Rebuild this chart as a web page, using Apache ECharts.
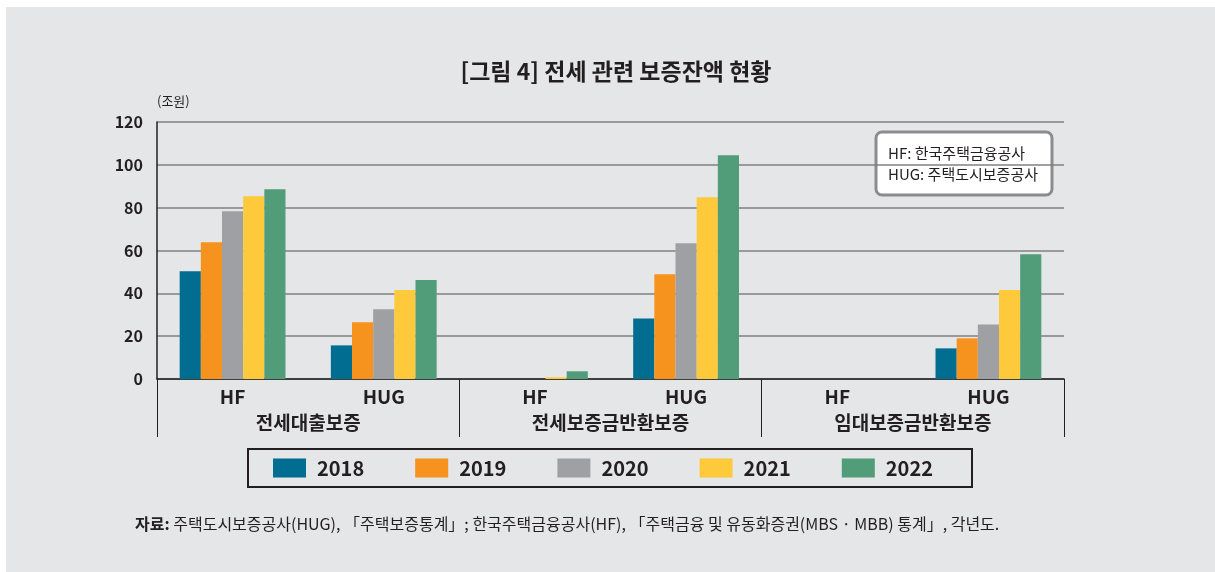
<!DOCTYPE html>
<html>
<head>
<meta charset="utf-8">
<script src="https://cdn.jsdelivr.net/npm/echarts@6/dist/echarts.min.js"></script>
<style>
  html, body { margin: 0; padding: 0; background: #fff; }
  #chart { width: 1215px; height: 572px; }
</style>
</head>
<body>
<div id="chart"></div>
<script>
// 데이터 (단위: 조원)
var categories = ['HF', 'HUG', 'HF', 'HUG', 'HF', 'HUG'];
var groups = ['전세대출보증', '전세보증금반환보증', '임대보증금반환보증'];
var years = ['2018', '2019', '2020', '2021', '2022'];
var v2018 = [50.3, 15.7, 0, 28.3, 0, 14.3];
var v2019 = [63.8, 26.5, 0, 48.9, 0, 19.0];
var v2020 = [78.3, 32.6, 0, 63.4, 0, 25.5];
var v2021 = [85.3, 41.5, 0.8, 84.9, 0, 41.5];
var v2022 = [88.6, 46.2, 3.6, 104.5, 0, 58.2];
var yTicks = [0, 20, 40, 60, 80, 100, 120];

var colors = ['#006d91', '#f6921e', '#9fa0a4', '#fec93b', '#519d79'];
var values = [v2018, v2019, v2020, v2021, v2022];
var font = '"Noto Sans CJK KR", "Noto Sans", sans-serif';
var ink = '#231f20';

var chart = echarts.init(document.getElementById('chart'));

var series = years.map(function (y, i) {
  return {
    name: y,
    type: 'bar',
    data: values[i],
    barGap: 0,
    barCategoryGap: '30%',
    itemStyle: { color: colors[i] }
  };
});

chart.setOption({
  backgroundColor: '#ffffff',
  textStyle: { fontFamily: font },
  animation: false,
  title: {
    text: '[그림 4] 전세 관련 보증잔액 현황',
    left: 611,
    textAlign: 'center',
    top: 55,
    textStyle: { fontFamily: font, fontSize: 23, fontWeight: 'bold', color: ink }
  },
  legend: {
    left: 248,
    top: 449,
    itemWidth: 33,
    itemHeight: 19,
    itemGap: 51,
    icon: 'rect',
    padding: [9, 39, 9, 25],
    borderColor: ink,
    borderWidth: 2,
    selectedMode: false,
    textStyle: { fontFamily: font, fontSize: 20, fontWeight: 'bold', color: ink, padding: [0, 0, 0, 6] },
    data: years
  },
  grid: { left: 157, right: 151, top: 122, bottom: 193 },
  xAxis: [
    {
      type: 'category',
      data: categories,
      axisLine: { lineStyle: { color: ink, width: 1.5 } },
      axisTick: { show: false },
      axisLabel: { margin: 8, fontFamily: font, fontSize: 19, fontWeight: 'bold', color: ink }
    },
    {
      type: 'category',
      data: groups,
      position: 'bottom',
      axisLine: { show: false },
      axisTick: { show: true, length: 58, lineStyle: { color: ink, width: 1 } },
      axisLabel: { margin: 34, fontFamily: font, fontSize: 19, fontWeight: 'bold', color: ink }
    }
  ],
  yAxis: {
    type: 'value',
    min: yTicks[0],
    max: yTicks[yTicks.length - 1],
    interval: 20,
    name: '(조원)',
    nameLocation: 'end',
    nameGap: 14,
    nameTextStyle: { align: 'left', fontFamily: font, fontSize: 13, color: ink, padding: [0, 0, 0, 0] },
    axisLine: { show: true, lineStyle: { color: ink, width: 1.5 } },
    axisTick: { show: false },
    axisLabel: { margin: 14, fontFamily: font, fontSize: 16, fontWeight: 'bold', color: ink },
    splitLine: { lineStyle: { color: '#808080', width: 1.5 } }
  },
  series: series,
  graphic: [
    {
      type: 'rect',
      z: -10,
      silent: true,
      shape: { x: 6, y: 7, width: 1209, height: 565 },
      style: { fill: '#e5e6e8' }
    },
    {
      type: 'group',
      z: 20,
      children: [
        {
          type: 'rect',
          shape: { x: 876, y: 132, width: 176, height: 63, r: 6 },
          style: { fill: '#ffffff', stroke: '#8c8c8c', lineWidth: 3 }
        },
        {
          type: 'text',
          x: 888, y: 153,
          style: { text: 'HF: 한국주택금융공사', fontFamily: font, fontSize: 15, fill: ink, verticalAlign: 'middle' }
        },
        {
          type: 'text',
          x: 888, y: 174,
          style: { text: 'HUG: 주택도시보증공사', fontFamily: font, fontSize: 15, fill: ink, verticalAlign: 'middle' }
        }
      ]
    },
    {
      type: 'text',
      x: 135, y: 524,
      style: {
        text: '{b|자료:} 주택도시보증공사(HUG), 「주택보증통계」; 한국주택금융공사(HF), 「주택금융 및 유동화증권(MBS · MBB) 통계」, 각년도.',
        verticalAlign: 'middle',
        fontFamily: font,
        fontSize: 16,
        fill: ink,
        rich: {
          b: { fontFamily: font, fontSize: 16, fontWeight: 'bold', fill: ink }
        }
      }
    }
  ]
});

window.addEventListener('resize', function () {
  chart.resize();
});
</script>
</body>
</html>
